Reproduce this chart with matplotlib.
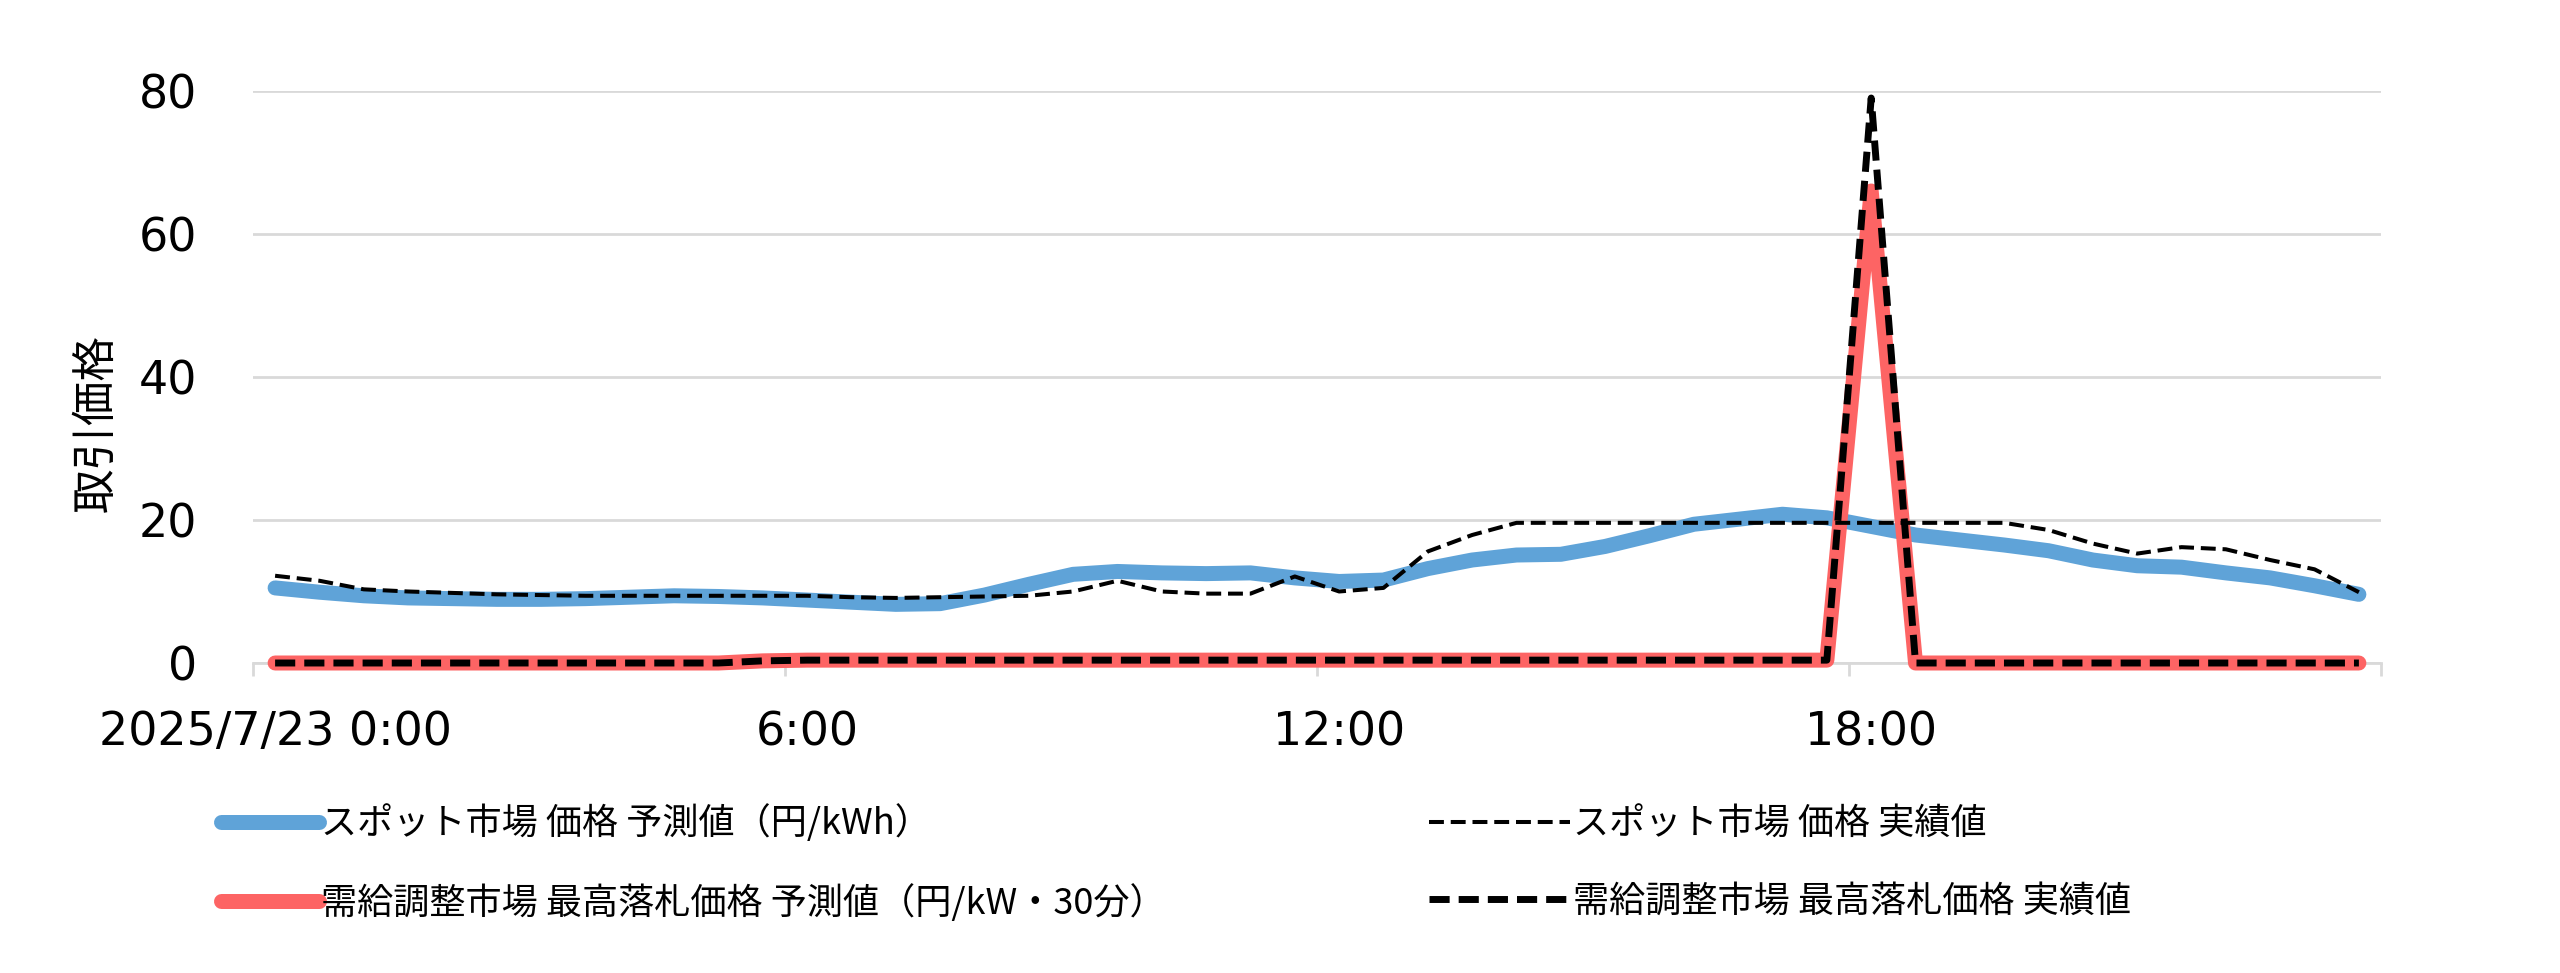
import matplotlib
matplotlib.use('Agg')
import matplotlib.pyplot as plt
import numpy as np

plt.rcParams['font.family'] = ['Noto Sans CJK JP', 'DejaVu Sans']

# 30-minute slots of 2025/7/23
slots = list(range(48))
tick_labels = ['2025/7/23 0:00', '6:00', '12:00', '18:00']

spot_forecast = [10.5, 9.9, 9.4, 9.1, 9.0, 8.9, 8.9, 9.0, 9.2, 9.4, 9.3, 9.1,
                 8.8, 8.5, 8.2, 8.3, 9.5, 11.0, 12.4, 12.8, 12.6, 12.5, 12.6, 11.9,
                 11.4, 11.6, 13.2, 14.4, 15.1, 15.2, 16.3, 17.8, 19.4, 20.1, 20.8, 20.3,
                 19.1, 17.9, 17.2, 16.5, 15.7, 14.4, 13.6, 13.4, 12.6, 11.9, 10.8, 9.6]
spot_actual = [12.2, 11.5, 10.3, 10.0, 9.8, 9.6, 9.5, 9.4, 9.4, 9.4, 9.4, 9.4,
               9.4, 9.2, 9.1, 9.2, 9.3, 9.4, 10.0, 11.5, 10.0, 9.7, 9.7, 12.1,
               10.0, 10.5, 15.6, 17.9, 19.6, 19.6, 19.6, 19.6, 19.6, 19.6, 19.6, 19.6,
               19.6, 19.6, 19.6, 19.6, 18.6, 16.7, 15.3, 16.2, 15.9, 14.4, 13.1, 9.9]
bal_forecast = [0, 0, 0, 0, 0, 0, 0, 0, 0, 0, 0, 0.3,
                0.4, 0.4, 0.4, 0.4, 0.4, 0.4, 0.4, 0.4, 0.4, 0.4, 0.4, 0.4,
                0.4, 0.4, 0.4, 0.4, 0.4, 0.4, 0.4, 0.4, 0.4, 0.4, 0.4, 0.4,
                66, 0, 0, 0, 0, 0, 0, 0, 0, 0, 0, 0]
bal_actual = [0, 0, 0, 0, 0, 0, 0, 0, 0, 0, 0, 0.3,
              0.4, 0.4, 0.4, 0.4, 0.4, 0.4, 0.4, 0.4, 0.4, 0.4, 0.4, 0.4,
              0.4, 0.4, 0.4, 0.4, 0.4, 0.4, 0.4, 0.4, 0.4, 0.4, 0.4, 0.4,
              79, 0, 0, 0, 0, 0, 0, 0, 0, 0, 0, 0]

labels = ['スポット市場 価格 予測値（円/kWh）',
          '需給調整市場 最高落札価格 予測値（円/kW・30分）',
          'スポット市場 価格 実績値',
          '需給調整市場 最高落札価格 実績値']

blue = '#5fa3d8'
red = '#fd6464'
grid = '#d9d9d9'

fig = plt.figure(figsize=(12.8, 4.865), dpi=200)
ax = fig.add_axes([0.0988, 0.3186, 0.8313, 0.588])

l1, = ax.plot(slots, spot_forecast, color=blue, lw=5.4, solid_capstyle='round',
              solid_joinstyle='round', zorder=3)
l2, = ax.plot(slots, bal_forecast, color=red, lw=5.4, solid_capstyle='round',
              solid_joinstyle='round', zorder=4, clip_on=False)
l3, = ax.plot(slots, spot_actual, color='black', lw=1.45, dashes=(3.7, 1.7), zorder=5)
l4, = ax.plot(slots, bal_actual, color='black', lw=2.5, dashes=(2.9, 1.3), zorder=6,
              clip_on=False)

ax.set_xlim(-0.5, 47.5)
ax.set_ylim(0, 80)
ax.set_yticks([0, 20, 40, 60, 80])
ax.yaxis.grid(True, color=grid, lw=1.0)
ax.set_axisbelow(True)
for s in ['top', 'right', 'left']:
    ax.spines[s].set_visible(False)
ax.spines['bottom'].set_color(grid)
ax.spines['bottom'].set_linewidth(1.0)

# tick marks between categories, labels centred on the slot
ax.set_xticks([-0.5, 11.5, 23.5, 35.5, 47.5])
ax.set_xticklabels([])
ax.tick_params(axis='x', which='major', length=4.5, color=grid, width=1.0)
ax.set_xticks([0, 12, 24, 36], minor=True)
ax.set_xticklabels(tick_labels, minor=True)
ax.tick_params(axis='x', which='minor', length=0, pad=17, labelsize=16.5)
ax.tick_params(axis='y', length=0, pad=20, labelsize=16.5)
for t in ax.get_xticklabels(minor=True) + ax.get_yticklabels():
    t.set_family('DejaVu Sans')

ax.set_ylabel('取引価格', fontsize=16)
ax.yaxis.set_label_coords(-0.063, 0.42)

fs = 13
fig.legend([l1, l2], labels[:2], loc='center left', bbox_to_anchor=(221 / 2560, 0.113),
           frameon=False, fontsize=fs, handlelength=2.7, handletextpad=0.08,
           borderpad=0, borderaxespad=0, labelspacing=1.15)
fig.legend([l3, l4], labels[2:], loc='center left', bbox_to_anchor=(1429 / 2560, 0.113),
           frameon=False, fontsize=fs, handlelength=3.9, handletextpad=0.08,
           borderpad=0, borderaxespad=0, labelspacing=1.15)

fig.savefig('out.png', dpi=200)
